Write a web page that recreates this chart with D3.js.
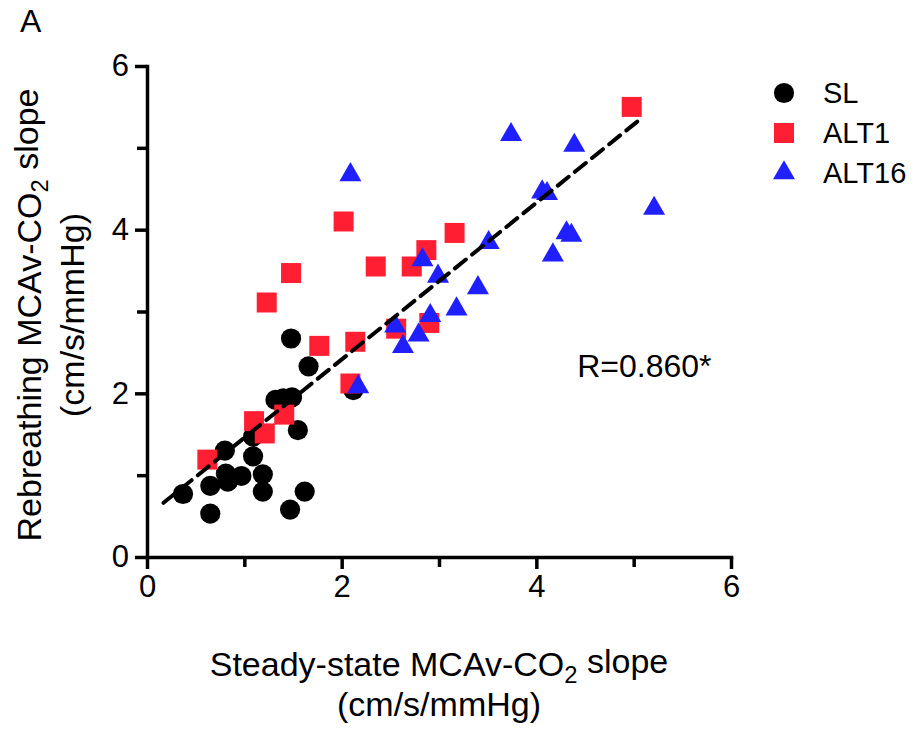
<!DOCTYPE html>
<html>
<head>
<meta charset="utf-8">
<script src="https://cdn.jsdelivr.net/npm/d3@7"></script>
<style>
  body { margin: 0; background: #fff; }
  text { font-family: "Liberation Sans", Arial, sans-serif; fill: #000; }
  .axis path, .axis line { stroke: #000; stroke-width: 3.5; }
  .axis text { font-size: 31px; font-family: "Liberation Sans", Arial, sans-serif; }
</style>
</head>
<body>
<div id="svgcontainer"></div>
<script>
// values (x = steady-state slope, y = rebreathing slope)
let slX = [1.48, 1.66, 1.32, 1.40, 1.49, 1.55, 1.09, 0.80, 1.09, 0.81, 0.97, 1.19, 0.65, 0.83, 1.19, 1.62, 0.37, 0.65, 1.47, 2.12];
let slY = [2.67, 2.33, 1.92, 1.94, 1.95, 1.55, 1.47, 1.30, 1.23, 1.02, 0.99, 1.01, 0.87, 0.92, 0.80, 0.80, 0.77, 0.53, 0.58, 2.04];
let alt1X = [4.98, 2.02, 1.48, 1.23, 2.35, 2.72, 2.87, 3.16, 2.56, 2.90, 1.77, 2.14, 2.09, 1.10, 1.41, 1.21, 0.62];
let alt1Y = [5.50, 4.10, 3.47, 3.11, 3.55, 3.55, 3.75, 3.96, 2.79, 2.86, 2.58, 2.63, 2.12, 1.66, 1.74, 1.51, 1.19];
let alt16X = [2.09, 3.74, 4.39, 4.06, 4.11, 5.21, 4.31, 4.36, 4.17, 3.51, 2.83, 2.99, 3.40, 3.18, 2.91, 2.55, 2.79, 2.63, 2.17];
let alt16Y = [4.67, 5.16, 5.03, 4.46, 4.44, 4.26, 3.96, 3.93, 3.69, 3.84, 3.63, 3.43, 3.29, 3.03, 2.95, 2.82, 2.71, 2.57, 2.08];
let seriesNames = ["SL", "ALT1", "ALT16"];
let xTicks = [0, 1, 2, 3, 4, 5, 6];
let yTicks = [0, 1, 2, 3, 4, 5, 6];
// regression line: y = intercept + slope * x, drawn over fitRange
let fitIntercept = 0.50;
let fitSlope = 0.957;
let fitRange = [0.17, 5.06];
let rLabel = "R=0.860*";

let width = 584;
let height = 491;
let margins = { top: 66, right: 185, bottom: 172, left: 147 };

let colors = { SL: "#000000", ALT1: "#FF1E32", ALT16: "#1F1FFF" };
let shapes = { SL: d3.symbolCircle, ALT1: d3.symbolSquare, ALT16: d3.symbolTriangle };
let sizes = { SL: 320, ALT1: 400, ALT16: 210 };

let series = [
    { name: "SL", points: slX.map((v, i) => ({ x: v, y: slY[i] })) },
    { name: "ALT1", points: alt1X.map((v, i) => ({ x: v, y: alt1Y[i] })) },
    { name: "ALT16", points: alt16X.map((v, i) => ({ x: v, y: alt16Y[i] })) }
];

let root = d3.select("#svgcontainer")
    .append('svg')
    .attr('width', 916)
    .attr('height', 729);
let svg = root.append('g')
    .attr('transform', 'translate(' + margins.left + ',' + margins.top + ')');

var x = d3.scaleLinear().domain([0, 6]).range([0, width]);
var y = d3.scaleLinear().domain([0, 6]).range([height, 0]);

svg.append('g')
    .attr('class', 'xaxis axis')
    .attr('transform', 'translate(0,' + height + ')')
    .call(d3.axisBottom(x).tickValues(xTicks).tickSize(12).tickSizeOuter(0).tickPadding(6)
        .tickFormat(d => d % 2 === 0 ? d : ""))
    .call(g => g.selectAll('.tick line').filter(d => d % 2 === 1).attr('y2', 10));

svg.append('g')
    .attr('class', 'yaxis axis')
    .call(d3.axisLeft(y).tickValues(yTicks).tickSize(12).tickSizeOuter(0).tickPadding(6)
        .tickFormat(d => d % 2 === 0 ? d : ""))
    .call(g => g.selectAll('.tick line').filter(d => d % 2 === 1).attr('x2', -10));

svg.selectAll('.axis path').attr('stroke-linecap', 'square');

// markers
var chart = svg.append('g').attr('class', 'points');
series.forEach(function (s) {
    chart.selectAll('path.' + s.name).data(s.points)
        .enter()
        .append('path')
        .attr('class', s.name)
        .attr('transform', d => 'translate(' + x(d.x) + ',' + y(d.y) + ')')
        .attr('d', d3.symbol().type(shapes[s.name]).size(sizes[s.name]))
        .style('fill', colors[s.name]);
});

// dashed fit line
svg.append('line')
    .attr('x1', x(fitRange[0]))
    .attr('y1', y(fitIntercept + fitSlope * fitRange[0]))
    .attr('x2', x(fitRange[1]))
    .attr('y2', y(fitIntercept + fitSlope * fitRange[1]))
    .style('stroke', '#000')
    .style('stroke-width', 4)
    .style('stroke-dasharray', '14,8')
    .style('stroke-linecap', 'round');

svg.append('text')
    .attr('x', x(4.42))
    .attr('y', y(2.2))
    .style('font-size', '32px')
    .text(rLabel);

// legend
var legend = root.append('g').attr('transform', 'translate(784,93)');
seriesNames.forEach(function (name, i) {
    let g = legend.append('g').attr('transform', 'translate(0,' + (i * 40) + ')');
    g.append('path')
        .attr('d', d3.symbol().type(shapes[name]).size(sizes[name]))
        .style('fill', colors[name]);
    g.append('text')
        .attr('x', 39)
        .attr('y', 10)
        .style('font-size', '29px')
        .text(name);
});

// axis titles
function co2Title(sel, before, after) {
    sel.append('tspan').text(before);
    sel.append('tspan').attr('dy', '0.3em').style('font-size', '0.7em').text('2');
    sel.append('tspan').attr('dy', '-0.3em').text(after);
}
var xt = root.append('text')
    .attr('text-anchor', 'middle')
    .attr('x', 439).attr('y', 676)
    .style('font-size', '34px');
co2Title(xt, 'Steady-state MCAv-CO', ' slope');
root.append('text')
    .attr('text-anchor', 'middle')
    .attr('x', 439).attr('y', 716)
    .style('font-size', '34px')
    .text('(cm/s/mmHg)');

var yt = root.append('text')
    .attr('text-anchor', 'middle')
    .attr('transform', 'translate(41,315) rotate(-90)')
    .style('font-size', '34px');
co2Title(yt, 'Rebreathing MCAv-CO', ' slope');
root.append('text')
    .attr('text-anchor', 'middle')
    .attr('transform', 'translate(84,315) rotate(-90)')
    .style('font-size', '34px')
    .text('(cm/s/mmHg)');

root.append('text')
    .attr('x', 20).attr('y', 32)
    .style('font-size', '32px')
    .text('A');
</script>
</body>
</html>
